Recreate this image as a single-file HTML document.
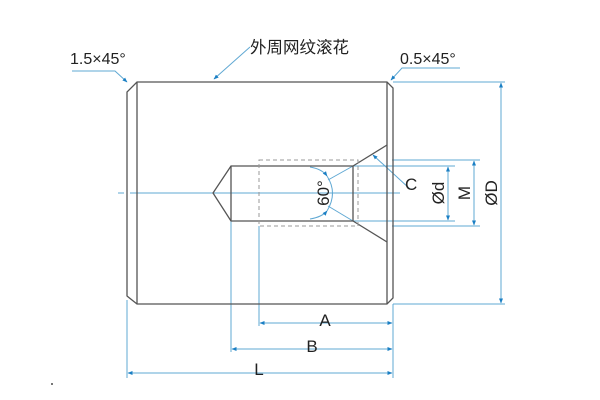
<!DOCTYPE html>
<html><head><meta charset="utf-8"><style>
html,body{margin:0;padding:0;background:#fff;}
svg{display:block;}
text{font-family:"Liberation Sans","Noto Sans CJK SC",sans-serif;fill:#222;}
</style></head><body>
<svg width="600" height="400" viewBox="0 0 600 400" xmlns="http://www.w3.org/2000/svg">
<defs>
<marker id="a" viewBox="0 0 10 10" refX="9" refY="5" markerWidth="5" markerHeight="5" orient="auto-start-reverse"><path d="M0,1 L10,5 L0,9 z" fill="#1a7fc4"/></marker>
</defs>
<g stroke="#5fa8d3" stroke-width="1" fill="none">
<line x1="118" y1="193" x2="124" y2="193"/>
<line x1="130" y1="193" x2="400" y2="193"/>
<line x1="393" y1="82" x2="505" y2="82"/>
<line x1="393" y1="304" x2="505" y2="304"/>
<line x1="392" y1="160" x2="480" y2="160"/>
<line x1="392" y1="226" x2="480" y2="226"/>
<line x1="353" y1="166" x2="455" y2="166"/>
<line x1="353" y1="221" x2="455" y2="221"/>
<line x1="127" y1="300" x2="127" y2="378"/>
<line x1="393" y1="304" x2="393" y2="378"/>
<line x1="231" y1="221" x2="231" y2="352"/>
<line x1="259" y1="226" x2="259" y2="326"/>
<line x1="501" y1="83" x2="501" y2="303" marker-start="url(#a)" marker-end="url(#a)"/>
<line x1="474" y1="161" x2="474" y2="225" marker-start="url(#a)" marker-end="url(#a)"/>
<line x1="448" y1="167" x2="448" y2="220" marker-start="url(#a)" marker-end="url(#a)"/>
<line x1="260" y1="323" x2="392" y2="323" marker-start="url(#a)" marker-end="url(#a)"/>
<line x1="232" y1="349" x2="392" y2="349" marker-start="url(#a)" marker-end="url(#a)"/>
<line x1="128" y1="373" x2="392" y2="373" marker-start="url(#a)" marker-end="url(#a)"/>
<polyline points="72,71 115,71 127,82" marker-end="url(#a)"/>
<line x1="250" y1="47" x2="214" y2="79" marker-end="url(#a)"/>
<polyline points="460,68 402,68 391,80" marker-end="url(#a)"/>
<polyline points="412,189 410,189 373,155" marker-end="url(#a)"/>
<path d="M310,167 Q322,169 327,176" marker-end="url(#a)"/>
<path d="M310,219 Q322,217 327,211" marker-end="url(#a)"/>
<path d="M327,176 Q338,193 327,211"/>
<line x1="328" y1="180" x2="353" y2="166"/>
<line x1="328" y1="206" x2="353" y2="221"/>
</g>
<g stroke="#555" stroke-width="1.3" fill="none">
<path d="M137,82 L387,82 L393,88 L393,298 L387,304 L137,304 L127,296 L127,92 Z"/>
<line x1="137" y1="82" x2="137" y2="304"/>
<line x1="387" y1="82" x2="387" y2="304"/>
<path d="M353,166 L231,166 L213,193 L231,221 L353,221"/>
<line x1="231" y1="166" x2="231" y2="221"/>
<line x1="353" y1="166" x2="353" y2="221"/>
<line x1="353" y1="166" x2="387" y2="145"/>
<line x1="353" y1="221" x2="387" y2="242"/>
</g>
<rect x="259" y="160" width="99" height="66" fill="none" stroke="#999" stroke-width="1" stroke-dasharray="4,3"/>
<text x="70" y="64" font-size="16">1.5×45°</text>
<text x="250" y="53" font-size="16.5">外周网纹滚花</text>
<text x="400" y="64" font-size="16">0.5×45°</text>
<text x="405" y="190" font-size="17">C</text>
<text x="325" y="326" font-size="17" text-anchor="middle">A</text>
<text x="312" y="352" font-size="17" text-anchor="middle">B</text>
<text x="259" y="375" font-size="17" text-anchor="middle">L</text>
<text transform="translate(329,193) rotate(-90)" font-size="17" text-anchor="middle">60°</text>
<text transform="translate(444,193) rotate(-90)" font-size="17" text-anchor="middle">Ød</text>
<text transform="translate(470,193) rotate(-90)" font-size="17" text-anchor="middle">M</text>
<text transform="translate(497,193) rotate(-90)" font-size="17" text-anchor="middle">ØD</text>
<rect x="51" y="383" width="2" height="2" fill="#777"/>
</svg>
</body></html>
